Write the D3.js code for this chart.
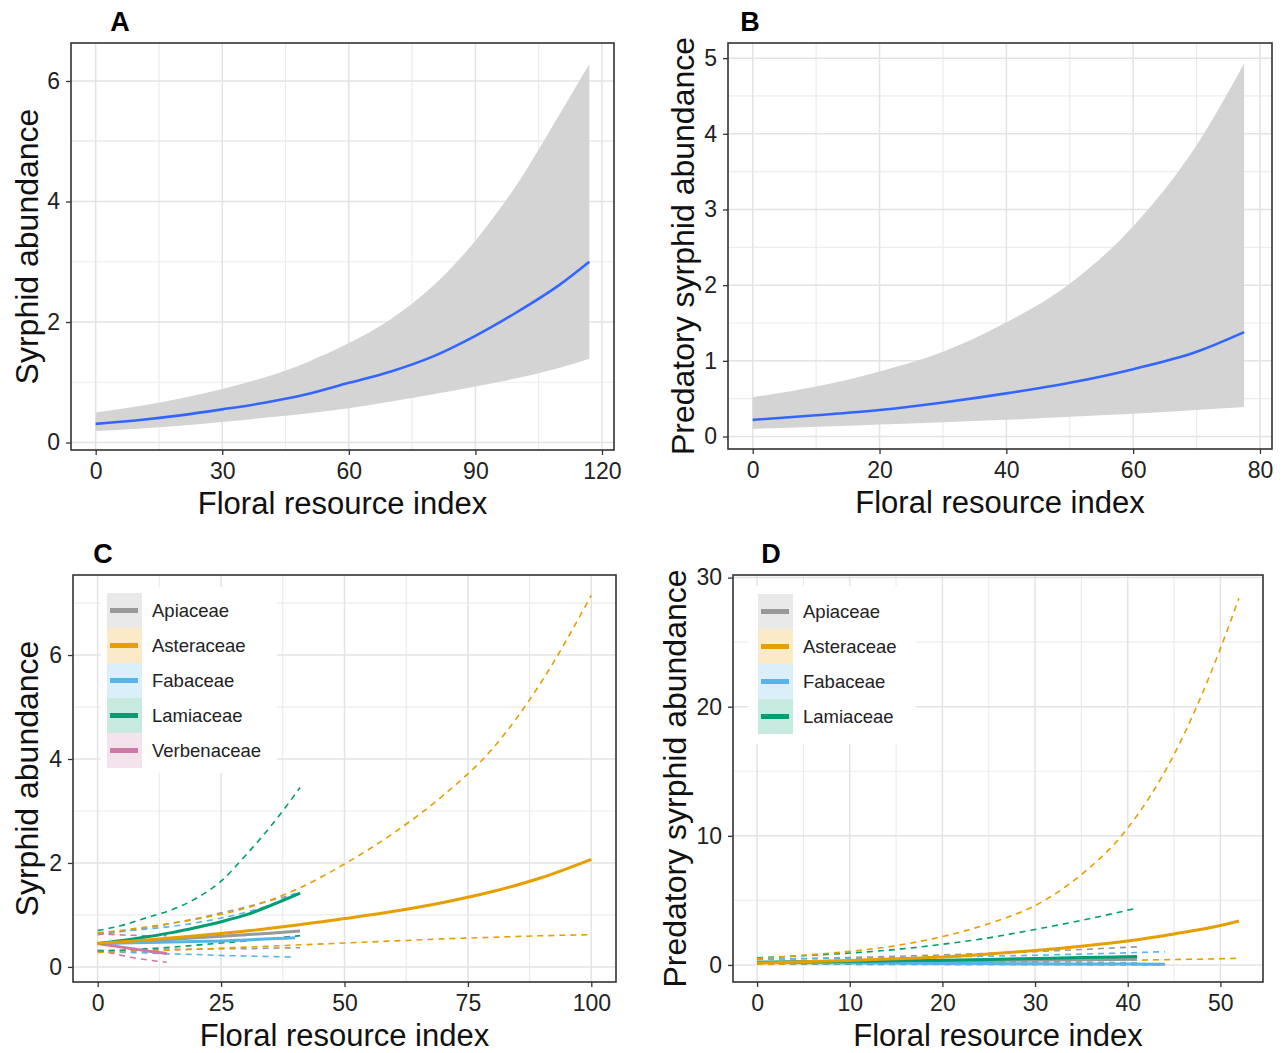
<!DOCTYPE html>
<html>
<head>
<meta charset="utf-8">
<script src="https://cdn.jsdelivr.net/npm/d3@7"></script>
<style>
body{margin:0;background:#fff;}
svg text{font-family:"Liberation Sans",Arial,sans-serif;}
</style>
</head>
<body>
<script>
// ---- panel A : all syrphids vs floral resource index
const aX     = [0, 10, 20, 30, 40, 50, 60, 70, 80, 90, 100, 110, 117];
const aFit   = [0.31, 0.37, 0.45, 0.55, 0.66, 0.80, 0.99, 1.18, 1.43, 1.77, 2.17, 2.62, 3.0];
const aLower = [0.19, 0.23, 0.28, 0.34, 0.41, 0.48, 0.57, 0.68, 0.80, 0.93, 1.07, 1.24, 1.39];
const aUpper = [0.50, 0.60, 0.73, 0.89, 1.08, 1.33, 1.65, 2.05, 2.60, 3.35, 4.30, 5.45, 6.28];

// ---- panel B : predatory syrphids
const bX     = [0, 10, 20, 30, 40, 50, 60, 70, 77.5];
const bFit   = [0.22, 0.28, 0.35, 0.45, 0.57, 0.71, 0.89, 1.12, 1.38];
const bLower = [0.10, 0.13, 0.16, 0.19, 0.22, 0.26, 0.30, 0.35, 0.39];
const bUpper = [0.52, 0.66, 0.86, 1.12, 1.51, 2.02, 2.78, 3.85, 4.93];

// ---- families (C and D)
const families = ["Apiaceae", "Asteraceae", "Fabaceae", "Lamiaceae", "Verbenaceae"];
const famColors = ["#999999", "#E69F00", "#56B4E9", "#009E73", "#CC79A7"];

// panel C
const cAstX   = [0, 10, 20, 30, 40, 50, 60, 70, 80, 90, 100];
const cAstFit = [0.45, 0.52, 0.60, 0.69, 0.80, 0.93, 1.07, 1.24, 1.45, 1.72, 2.07];
const cAstLo  = [0.28, 0.31, 0.34, 0.38, 0.42, 0.46, 0.50, 0.54, 0.57, 0.60, 0.62];
const cAstHi  = [0.65, 0.77, 0.92, 1.13, 1.48, 1.98, 2.58, 3.30, 4.20, 5.50, 7.15];
const cShortX = [0, 5, 10, 15, 20, 25, 30, 35, 41];
const cApiFit = [0.45, 0.47, 0.50, 0.53, 0.56, 0.59, 0.62, 0.65, 0.69];
const cApiLo  = [0.32, 0.32, 0.33, 0.34, 0.34, 0.35, 0.35, 0.36, 0.37];
const cApiHi  = [0.62, 0.68, 0.75, 0.84, 0.93, 1.04, 1.15, 1.28, 1.42];
const cLamFit = [0.45, 0.51, 0.58, 0.66, 0.76, 0.87, 1.00, 1.18, 1.42];
const cLamLo  = [0.30, 0.32, 0.35, 0.38, 0.42, 0.46, 0.50, 0.55, 0.60];
const cLamHi  = [0.70, 0.80, 0.95, 1.10, 1.32, 1.65, 2.15, 2.70, 3.45];
const cFabX   = [0, 5, 10, 15, 20, 25, 30, 35, 40];
const cFabFit = [0.45, 0.46, 0.47, 0.48, 0.49, 0.50, 0.52, 0.54, 0.56];
const cFabLo  = [0.30, 0.28, 0.27, 0.25, 0.24, 0.22, 0.21, 0.20, 0.19];
const cFabHi  = [0.66, 0.69, 0.73, 0.78, 0.85, 0.94, 1.05, 1.20, 1.42];
const cVerX   = [0, 3.5, 7, 10.5, 14];
const cVerFit = [0.45, 0.40, 0.35, 0.30, 0.26];
const cVerLo  = [0.32, 0.25, 0.18, 0.13, 0.09];
const cVerHi  = [0.64, 0.62, 0.61, 0.60, 0.60];

// panel D
const dAstX   = [0, 5, 10, 15, 20, 25, 30, 35, 40, 45, 50, 52];
const dAstFit = [0.15, 0.25, 0.35, 0.48, 0.62, 0.85, 1.12, 1.45, 1.85, 2.40, 3.05, 3.40];
const dAstLo  = [0.05, 0.08, 0.11, 0.14, 0.18, 0.22, 0.27, 0.31, 0.36, 0.42, 0.48, 0.52];
const dAstHi  = [0.50, 0.75, 1.05, 1.50, 2.20, 3.20, 4.60, 7.00, 10.6, 16.3, 24.5, 28.4];
const dShortX = [0, 5, 10, 15, 20, 25, 30, 35, 41];
const dApiFit = [0.20, 0.22, 0.25, 0.28, 0.31, 0.34, 0.37, 0.40, 0.45];
const dApiLo  = [0.08, 0.09, 0.10, 0.11, 0.12, 0.13, 0.14, 0.15, 0.15];
const dApiHi  = [0.45, 0.50, 0.58, 0.67, 0.78, 0.90, 1.03, 1.20, 1.40];
const dLamFit = [0.20, 0.24, 0.28, 0.32, 0.37, 0.43, 0.50, 0.57, 0.66];
const dLamLo  = [0.07, 0.07, 0.08, 0.08, 0.09, 0.09, 0.09, 0.10, 0.10];
const dLamHi  = [0.55, 0.72, 0.92, 1.20, 1.60, 2.10, 2.75, 3.45, 4.40];
const dFabX   = [0, 5, 10, 15, 20, 25, 30, 35, 40, 44];
const dFabFit = [0.20, 0.18, 0.16, 0.14, 0.12, 0.11, 0.09, 0.08, 0.07, 0.06];
const dFabLo  = [0.08, 0.07, 0.05, 0.04, 0.03, 0.02, 0.02, 0.01, 0.01, 0.01];
const dFabHi  = [0.45, 0.48, 0.52, 0.56, 0.62, 0.68, 0.75, 0.84, 0.94, 1.03];

// ---- tick labels
const aXTicks = [0, 30, 60, 90, 120], aYTicks = [0, 2, 4, 6];
const bXTicks = [0, 20, 40, 60, 80], bYTicks = [0, 1, 2, 3, 4, 5];
const cXTicks = [0, 25, 50, 75, 100], cYTicks = [0, 2, 4, 6];
const dXTicks = [0, 10, 20, 30, 40, 50], dYTicks = [0, 10, 20, 30];

const xTitle = "Floral resource index";

const svg = d3.select("body").append("svg")
  .attr("width", 1285).attr("height", 1053);

function mid(t) { // halfway points between ticks, for minor grid
  const out = [];
  for (let i = 0; i < t.length - 1; i++) out.push((t[i] + t[i + 1]) / 2);
  return out;
}

function makePanel(o) {
  const g = svg.append("g");
  const x = d3.scaleLinear().domain(o.xd).range([o.l, o.r]);
  const y = d3.scaleLinear().domain(o.yd).range([o.b, o.t]);

  const xm = mid(o.xt).concat(o.xExtra || []), ym = mid(o.yt).concat(o.yExtra || []);
  g.selectAll(".gxm").data(xm).join("line")
    .attr("x1", d => x(d)).attr("x2", d => x(d)).attr("y1", o.t).attr("y2", o.b)
    .attr("stroke", "#ececec").attr("stroke-width", 1.2);
  g.selectAll(".gym").data(ym).join("line")
    .attr("y1", d => y(d)).attr("y2", d => y(d)).attr("x1", o.l).attr("x2", o.r)
    .attr("stroke", "#ececec").attr("stroke-width", 1.2);
  g.selectAll(".gx").data(o.xt).join("line")
    .attr("x1", d => x(d)).attr("x2", d => x(d)).attr("y1", o.t).attr("y2", o.b)
    .attr("stroke", "#e3e3e3").attr("stroke-width", 1.5);
  g.selectAll(".gy").data(o.yt).join("line")
    .attr("y1", d => y(d)).attr("y2", d => y(d)).attr("x1", o.l).attr("x2", o.r)
    .attr("stroke", "#e3e3e3").attr("stroke-width", 1.5);

  return { g, x, y, o };
}

function finishPanel(P) {
  const { g, x, y, o } = P;
  g.append("rect").attr("x", o.l).attr("y", o.t).attr("width", o.r - o.l).attr("height", o.b - o.t)
    .attr("fill", "none").attr("stroke", "#333").attr("stroke-width", 1.6);

  const style = a => {
    a.select(".domain").remove();
    a.selectAll("line").attr("stroke", "#333").attr("stroke-width", 1.3);
    a.selectAll("text").attr("font-size", 23).attr("fill", "#222")
      .attr("font-family", '"Liberation Sans",Arial,sans-serif');
  };
  g.append("g").attr("transform", `translate(0,${o.b})`)
    .call(d3.axisBottom(x).tickValues(o.xt).tickSize(5).tickPadding(8).tickFormat(d3.format("d")))
    .call(style);
  g.append("g").attr("transform", `translate(${o.l},0)`)
    .call(d3.axisLeft(y).tickValues(o.yt).tickSize(5).tickPadding(6).tickFormat(d3.format("d")))
    .call(style);

  g.append("text").attr("x", (o.l + o.r) / 2).attr("y", o.b + 64)
    .attr("text-anchor", "middle").attr("font-size", 31).attr("fill", "#111").text(xTitle);
  g.append("text").attr("transform", `translate(${o.l + o.ytx},${(o.t + o.b) / 2}) rotate(-90)`)
    .attr("dy", "0.35em").attr("text-anchor", "middle").attr("font-size", 32).attr("fill", "#111")
    .text(o.ytitle);
  g.append("text").attr("x", o.l + o.lx).attr("y", o.t - 12)
    .attr("text-anchor", "middle").attr("font-size", 27).attr("font-weight", "bold")
    .attr("fill", "#000").text(o.letter);
}

const curve = d3.curveMonotoneX;

function ribbonPanel(P, xs, fit, lo, hi) {
  const { g, x, y } = P;
  const rows = xs.map((v, i) => [v, lo[i], hi[i], fit[i]]);
  g.append("path").datum(rows)
    .attr("d", d3.area().x(d => x(d[0])).y0(d => y(d[1])).y1(d => y(d[2])).curve(curve))
    .attr("fill", "#d4d4d4");
  g.append("path").datum(rows)
    .attr("d", d3.line().x(d => x(d[0])).y(d => y(d[3])).curve(curve))
    .attr("fill", "none").attr("stroke", "#3366FF").attr("stroke-width", 2.6);
}

function familyPanel(P, series) {
  const { g, x, y } = P;
  const line = d3.line().x(d => x(d[0])).y(d => y(d[1])).curve(curve);
  series.forEach(s => {
    [s.lo, s.hi].forEach(arr => {
      g.append("path").datum(d3.zip(s.x, arr)).attr("d", line)
        .attr("fill", "none").attr("stroke", s.color).attr("stroke-width", 1.6)
        .attr("stroke-dasharray", "6,5");
    });
  });
  series.forEach(s => {
    g.append("path").datum(d3.zip(s.x, s.fit)).attr("d", line)
      .attr("fill", "none").attr("stroke", s.color).attr("stroke-width", 3);
  });
}

function legend(P, names, bx, by, bw, bh, kx, ky) {
  const { g } = P;
  g.append("rect").attr("x", bx).attr("y", by).attr("width", bw).attr("height", bh).attr("fill", "#fff");
  names.forEach((n, i) => {
    const c = famColors[families.indexOf(n)];
    const yy = ky + i * 35;
    g.append("rect").attr("x", kx).attr("y", yy).attr("width", 35).attr("height", 35)
      .attr("fill", c).attr("fill-opacity", 0.22);
    g.append("line").attr("x1", kx + 3).attr("x2", kx + 31).attr("y1", yy + 17.5).attr("y2", yy + 17.5)
      .attr("stroke", c).attr("stroke-width", 5);
    g.append("text").attr("x", kx + 45).attr("y", yy + 17.5).attr("dy", "0.35em")
      .attr("font-size", 18.5).attr("fill", "#222").text(n);
  });
}

// ---- A
const A = makePanel({ l: 71, t: 43, r: 614, b: 450, xd: [-5.85, 122.85], yd: [-0.124, 6.63],
  xt: aXTicks, yt: aYTicks, yExtra: [5] });
ribbonPanel(A, aX, aFit, aLower, aUpper);
finishPanel(Object.assign(A, { o: Object.assign(A.o, { ytitle: "Syrphid abundance", ytx: -44, letter: "A", lx: 49 }) }));

// ---- B
const B = makePanel({ l: 728, t: 43, r: 1272, b: 449, xd: [-3.9, 81.9], yd: [-0.165, 5.2],
  xt: bXTicks, yt: bYTicks });
ribbonPanel(B, bX, bFit, bLower, bUpper);
finishPanel(Object.assign(B, { o: Object.assign(B.o, { ytitle: "Predatory syrphid abundance", ytx: -45, letter: "B", lx: 22 }) }));

// ---- C
const cSeries = [
  { x: cShortX, fit: cApiFit, lo: cApiLo, hi: cApiHi, color: famColors[0] },
  { x: cFabX, fit: cFabFit, lo: cFabLo, hi: cFabHi, color: famColors[2] },
  { x: cVerX, fit: cVerFit, lo: cVerLo, hi: cVerHi, color: famColors[4] },
  { x: cShortX, fit: cLamFit, lo: cLamLo, hi: cLamHi, color: famColors[3] },
  { x: cAstX, fit: cAstFit, lo: cAstLo, hi: cAstHi, color: famColors[1] }
];
const C = makePanel({ l: 73, t: 575, r: 616, b: 982, xd: [-5, 105], yd: [-0.29, 7.54],
  xt: cXTicks, yt: cYTicks, yExtra: [7] });
familyPanel(C, cSeries);
legend(C, families, 101, 587, 176, 186, 107, 593);
finishPanel(Object.assign(C, { o: Object.assign(C.o, { ytitle: "Syrphid abundance", ytx: -46, letter: "C", lx: 30 }) }));

// ---- D
const dSeries = [
  { x: dShortX, fit: dApiFit, lo: dApiLo, hi: dApiHi, color: famColors[0] },
  { x: dFabX, fit: dFabFit, lo: dFabLo, hi: dFabHi, color: famColors[2] },
  { x: dShortX, fit: dLamFit, lo: dLamLo, hi: dLamHi, color: famColors[3] },
  { x: dAstX, fit: dAstFit, lo: dAstLo, hi: dAstHi, color: famColors[1] }
];
const D = makePanel({ l: 733, t: 575, r: 1263, b: 982, xd: [-2.6, 54.6], yd: [-1.32, 30.2],
  xt: dXTicks, yt: dYTicks });
familyPanel(D, dSeries);
legend(D, families.slice(0, 4), 748, 586, 168, 158, 758, 594);
finishPanel(Object.assign(D, { o: Object.assign(D.o, { ytitle: "Predatory syrphid abundance", ytx: -58, letter: "D", lx: 38 }) }));
</script>
</body>
</html>
